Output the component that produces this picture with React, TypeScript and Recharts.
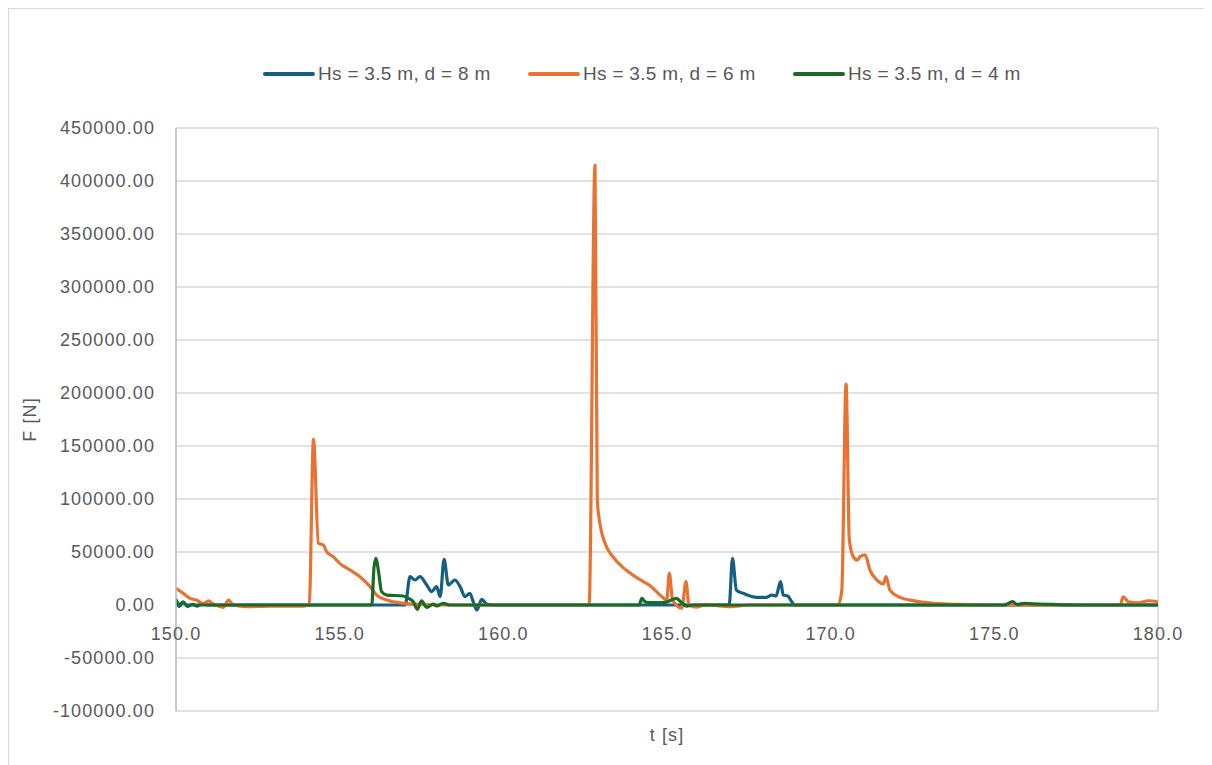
import React from 'react';
import {
  LineChart,
  Line,
  XAxis,
  YAxis,
  CartesianGrid,
  ReferenceLine,
  ReferenceDot,
  Label,
} from 'recharts';

const seriesNames = ['Hs = 3.5 m, d = 8 m', 'Hs = 3.5 m, d = 6 m', 'Hs = 3.5 m, d = 4 m'];
const seriesColors = ['#156082', '#E97132', '#196B24'];

const xTicks = [150, 155, 160, 165, 170, 175, 180];
const yTicks = [-100000, -50000, 0, 50000, 100000, 150000, 200000, 250000, 300000, 350000, 400000, 450000];

// d = 8 m
const tD8 = [150, 150.1, 150.22, 150.35, 150.5, 150.65, 150.8, 151.0, 157.0, 157.15, 157.3, 157.45, 157.66, 157.81, 157.96, 158.07, 158.19, 158.32, 158.52, 158.68, 158.83, 158.98, 159.08, 159.19, 159.34, 159.49, 159.7, 166.9, 167.0, 167.12, 167.33, 167.74, 168.04, 168.2, 168.33, 168.47, 168.55, 168.69, 168.81, 168.9, 180];
const fD8 = [3000, -1500, 3000, -1500, 500, -1000, 1000, 0, 0, 26700, 23600, 26700, 18900, 12600, 17300, 7900, 43000, 18900, 23600, 17300, 7900, 11000, 3100, -4700, 5300, 900, 0, 0, 44000, 14100, 11000, 7200, 7200, 9400, 8500, 22000, 9400, 8500, 3100, 0, 0];

// d = 6 m
const tD6 = [150, 150.22, 150.43, 150.63, 150.83, 150.99, 151.14, 151.45, 151.6, 151.75, 152.16, 152.87, 153.89, 154.07, 154.2, 154.35, 154.5, 154.6, 154.8, 155.0, 155.32, 155.62, 155.93, 156.13, 156.44, 156.94, 157.45, 158.0, 162.62, 162.8, 162.87, 162.95, 163.11, 163.36, 163.67, 163.97, 164.28, 164.53, 164.73, 164.89, 164.99, 165.07, 165.17, 165.45, 165.58, 165.67, 165.91, 166.2, 166.5, 166.93, 167.5, 170.23, 170.34, 170.47, 170.57, 170.69, 170.81, 170.9, 171.05, 171.2, 171.41, 171.61, 171.69, 171.81, 172.12, 172.52, 173.14, 173.95, 174.97, 178.84, 178.94, 179.09, 179.4, 179.7, 180];
const fD6 = [15700, 11000, 6300, 4700, 1500, 3800, 1000, -2200, 4700, 0, -1600, -1000, -1000, 0, 156300, 58200, 56600, 50300, 45600, 39300, 33000, 26700, 17300, 9400, 4700, 1600, 600, 0, 0, 415000, 99000, 77000, 58000, 45000, 35000, 28000, 22000, 17000, 11000, 6600, 4000, 30000, 4700, -3000, 22000, 0, -2000, 500, -500, -1500, 0, 0, 14000, 208500, 61300, 45600, 42400, 45600, 47200, 33000, 23600, 19800, 26700, 14100, 7200, 4100, 1600, 500, 0, 0, 7800, 3100, 2000, 4000, 3000];

// d = 4 m
const tD4 = [150, 150.1, 150.2, 150.35, 150.5, 155.98, 156.05, 156.11, 156.18, 156.28, 156.44, 156.94, 157.1, 157.25, 157.37, 157.5, 157.66, 157.86, 157.96, 158.17, 158.37, 164.15, 164.23, 164.33, 164.48, 164.89, 165.05, 165.28, 165.45, 165.6, 165.8, 175.3, 175.56, 175.7, 175.91, 176.2, 176.8, 177.8, 180];
const fD4 = [5000, 500, 2500, 0, 0, 0, 36000, 44000, 33000, 12600, 9400, 8500, 6300, 3100, -4100, 3800, -2200, 900, -900, 1600, 0, 0, 6300, 3100, 2200, 2200, 3500, 6300, 2200, -1000, 0, 0, 3100, 500, 1600, 1000, 500, 0, 0];

const toData = (ts: number[], fs: number[]) => ts.map((t, i) => ({ t, f: fs[i] }));
const seriesData = [toData(tD8, fD8), toData(tD6, fD6), toData(tD4, fD4)];

const TEXT = '#595959';
const FONT = '"Liberation Sans", Arial, sans-serif';

const YTitle = (props: any) => {
  const vb = props.viewBox || { x: 0, y: 128, width: 176, height: 583 };
  const cx = vb.x + 30;
  const cy = vb.y + vb.height / 2;
  return (
    <text x={cx} y={cy} transform={`rotate(-90, ${cx}, ${cy})`} textAnchor="middle" dominantBaseline="central" fill={TEXT} fontSize={18}>
      F [N]
    </text>
  );
};

export default function App() {
  return (
    <div style={{ position: 'relative', width: 1204, height: 757, fontFamily: FONT, letterSpacing: '1.1px' }}>
      <div
        style={{
          position: 'absolute',
          left: -1,
          top: -1,
          width: 1205,
          height: 758,
          boxSizing: 'border-box',
          borderLeft: '2px solid #d9d9d9',
          borderTop: '2px solid #d9d9d9',
        }}
      />
      <div style={{ position: 'absolute', left: -8, top: -8 }}>
        <LineChart width={1212} height={765} margin={{ top: 128, right: 54, left: 0, bottom: 0 }}>
          <CartesianGrid stroke="#d9d9d9" strokeWidth={1.5} />
          <XAxis
            dataKey="t"
            type="number"
            domain={[150, 180]}
            ticks={xTicks}
            interval={0}
            allowDataOverflow
            tick={false}
            tickLine={false}
            axisLine={false}
            height={54}
          >
            <Label value="t [s]" position="insideTop" offset={17} fill={TEXT} fontSize={18} />
          </XAxis>
          <YAxis
            type="number"
            domain={[-100000, 450000]}
            ticks={yTicks}
            interval={0}
            allowDataOverflow
            width={176}
            tickLine={false}
            tickSize={0}
            tickMargin={21}
            axisLine={{ stroke: '#bfbfbf', strokeWidth: 1.5 }}
            tick={{ fill: TEXT, fontSize: 18 }}
            tickFormatter={(v: number) => v.toFixed(2)}
          >
            <Label content={YTitle} />
          </YAxis>
          <ReferenceLine y={0} stroke="#bfbfbf" strokeWidth={1.5} />
          {xTicks.map((t) => (
            <ReferenceDot
              key={t}
              x={t}
              y={0}
              r={0}
              fill="none"
              stroke="none"
              label={{ value: t.toFixed(1), position: 'bottom', offset: 22, fill: TEXT, fontSize: 18 }}
            />
          ))}
          {seriesData.map((d, i) => (
            <Line
              key={seriesNames[i]}
              data={d}
              dataKey="f"
              name={seriesNames[i]}
              type="monotone"
              stroke={seriesColors[i]}
              strokeWidth={3.2}
              dot={false}
              activeDot={false}
              isAnimationActive={false}
              strokeLinejoin="round"
              strokeLinecap="round"
            />
          ))}
        </LineChart>
      </div>
      <div
        style={{
          position: 'absolute',
          left: 255,
          top: 54,
          height: 24,
          display: 'flex',
          alignItems: 'center',
          fontSize: 19,
          letterSpacing: '0.3px',
          color: TEXT,
          whiteSpace: 'nowrap',
        }}
      >
        {seriesNames.map((n, i) => (
          <div key={n} style={{ width: 265, display: 'flex', alignItems: 'center' }}>
            <span style={{ display: 'inline-block', width: 52, height: 4, borderRadius: 2, background: seriesColors[i], marginRight: 3 }} />
            <span>{n}</span>
          </div>
        ))}
      </div>
    </div>
  );
}
